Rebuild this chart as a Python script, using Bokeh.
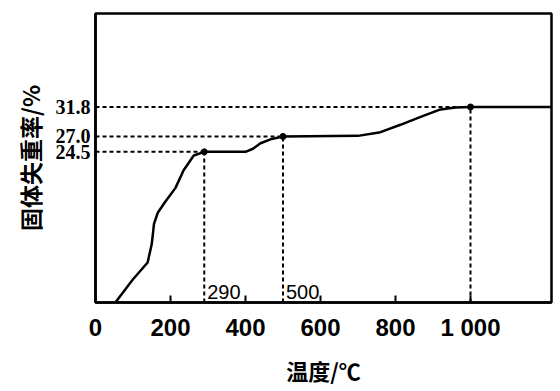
from bokeh.plotting import figure
from bokeh.models import FixedTicker, Range1d, ColumnDataSource, NumeralTickFormatter
from bokeh.core.properties import value
from bokeh.embed import file_html
from bokeh.resources import INLINE

# curve data
temperature = [53, 99, 139, 150, 156, 166, 185, 213, 235, 262, 290, 400, 420, 440, 470, 500,
               700, 760, 813, 867, 920, 960, 1000, 1216]
mass_loss = [0, 3.7, 6.5, 9.5, 12.8, 14.6, 16.3, 18.6, 21.5, 23.9, 24.5, 24.5, 25.0, 25.9, 26.6, 27.0,
             27.1, 27.7, 28.9, 30.2, 31.4, 31.7, 31.8, 31.8]

# marked points
mark_temp = [290, 500, 1000]
mark_loss = [24.5, 27.0, 31.8]
mark_text = ["290", "500", ""]

x_ticks = [0, 200, 400, 600, 800, 1000]
y_ticks = [24.5, 27.0, 31.8]

p = figure(width=556, height=388, x_range=Range1d(0, 1216), y_range=Range1d(0, 47),
           output_backend="svg", toolbar_location=None,
           min_border_left=95, min_border_right=5, min_border_top=13, min_border_bottom=85)
p.background_fill_color = "white"
p.border_fill_color = "white"
p.grid.visible = False
p.outline_line_color = "black"
p.outline_line_width = 2.5

xa = p.xaxis[0]
xa.ticker = FixedTicker(ticks=x_ticks)
xa.major_label_overrides = {1000: "1 000"}
xa.major_tick_in = 7
xa.major_tick_out = 0
xa.minor_tick_line_color = None
xa.major_tick_line_width = 2
xa.axis_line_width = 2.5
xa.major_label_standoff = 11
xa.major_label_text_font = "Liberation Sans"
xa.major_label_text_font_style = "bold"
xa.major_label_text_font_size = "24px"
xa.major_label_text_color = "black"
xa.axis_label = "温度/℃"
xa.axis_label_standoff = 10
xa.axis_label_text_font = "Noto Sans CJK SC"
xa.axis_label_text_font_style = "bold"
xa.axis_label_text_font_size = "22px"
xa.axis_label_text_color = "black"

ya = p.yaxis[0]
ya.ticker = FixedTicker(ticks=y_ticks)
ya.formatter = NumeralTickFormatter(format="0.0")
ya.major_tick_line_color = None
ya.minor_tick_line_color = None
ya.major_tick_in = 0
ya.major_tick_out = 0
ya.axis_line_width = 2.5
ya.major_label_standoff = 5
ya.major_label_text_font = "Liberation Serif"
ya.major_label_text_font_style = "bold"
ya.major_label_text_font_size = "20px"
ya.major_label_text_color = "black"
ya.axis_label = "固体失重率/%"
ya.axis_label_standoff = 6
ya.axis_label_text_font = "Noto Sans CJK SC"
ya.axis_label_text_font_style = "bold"
ya.axis_label_text_font_size = "23px"
ya.axis_label_text_color = "black"

x0 = p.x_range.start
y0 = p.y_range.start
ms = ColumnDataSource(dict(t=mark_temp, v=mark_loss, lab=mark_text,
                           x0=[x0] * len(mark_temp), y0=[y0] * len(mark_temp)))

# dashed guide lines
p.segment(x0="x0", y0="v", x1="t", y1="v", source=ms, line_color="black",
          line_width=2, line_dash="4 3")
p.segment(x0="t", y0="y0", x1="t", y1="v", source=ms, line_color="black",
          line_width=2, line_dash="4 3")

# curve
p.line(temperature, mass_loss, line_color="black", line_width=2.5)

# marker dots
p.scatter(x="t", y="v", source=ms, size=6, color="black")

# labels near x axis
p.text(x="t", y="y0", text="lab", source=ms, x_offset=3, y_offset=-4,
       text_align="left", text_baseline="bottom", text_font=value("Liberation Sans"),
       text_font_size="20px", text_color="black")

open("out.html", "w").write(file_html(p, INLINE))
